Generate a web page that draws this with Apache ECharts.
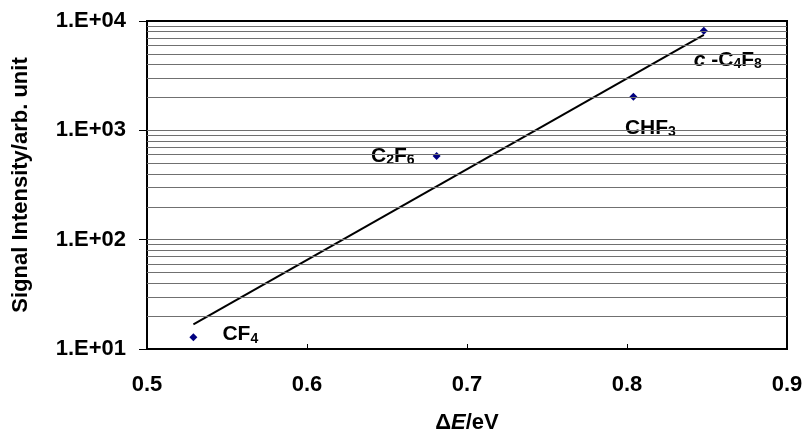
<!DOCTYPE html>
<html>
<head>
<meta charset="utf-8">
<script src="https://cdn.jsdelivr.net/npm/echarts@6/dist/echarts.min.js"></script>
<style>html,body{margin:0;padding:0;background:#fff}#c{width:804px;height:436px}</style>
</head>
<body>
<div id="c"></div>
<script>
// Data
var gases = ['CF4', 'C2F6', 'CHF3', 'c-C4F8'];
var deltaE = [0.529, 0.681, 0.804, 0.848];
var intensity = [12.8, 582, 2030, 8150];
var trendX = [0.529, 0.848];
var trendY = [16.8, 7450];
var xTicks = [0.5, 0.6, 0.7, 0.8, 0.9];
var yDecades = [10, 100, 1000, 10000];

var FF = 'Liberation Sans';
var labelRich = {
  b: {fontFamily: FF, fontWeight: 'bold', fontSize: 21, color: '#000', lineHeight: 22},
  i: {fontFamily: FF, fontWeight: 'bold', fontStyle: 'italic', fontSize: 21, color: '#000', lineHeight: 22},
  s: {fontFamily: FF, fontWeight: 'bold', fontSize: 14, color: '#000', lineHeight: 22, padding: [9, 0, 0, 0]}
};
var labelText = ['{b|CF}{s|4}', '{b|C}{s|2}{b|F}{s|6}', '{b|CHF}{s|3}', '{i|c}{b| -C}{s|4}{b|F}{s|8}'];
var labelPos = [
  {position: 'right', distance: 25, offset: [0, -3]},
  {position: 'left', distance: 18, offset: [0, 0]},
  {position: 'bottom', distance: 16, offset: [17, 0]},
  {position: 'bottom', distance: 14, offset: [24, 0]}
];

var gridValues = [];
for (var d = 0; d < yDecades.length - 1; d++) {
  for (var m = 1; m <= 9; m++) {
    var v = yDecades[d] * m;
    if (v > yDecades[0]) gridValues.push(v);
  }
}

var pts = deltaE.map(function (x, i) {
  return {
    value: [x, intensity[i]],
    label: Object.assign({show: true, color: '#000', formatter: labelText[i], rich: labelRich}, labelPos[i])
  };
});

var chart = echarts.init(document.getElementById('c'), null, {renderer: 'canvas'});
chart.setOption({
  animation: false,
  backgroundColor: '#fff',
  grid: {left: 147, right: 17, top: 21, bottom: 87, containLabel: false, outerBoundsMode: 'none',
    show: true, borderColor: '#000', borderWidth: 2, backgroundColor: 'transparent'},
  xAxis: {
    type: 'value', min: 0.5, max: 0.9, interval: 0.1,
    name: '{d|Δ}{e|E}{d|/eV}', nameLocation: 'middle', nameGap: 63,
    nameTextStyle: {rich: {
      d: {fontFamily: FF, fontWeight: 'bold', fontSize: 22, color: '#000'},
      e: {fontFamily: FF, fontWeight: 'bold', fontStyle: 'italic', fontSize: 22, color: '#000'}
    }},
    axisLine: {show: true, onZero: false, lineStyle: {color: '#000', width: 2}},
    axisTick: {show: true, inside: true, length: 5, lineStyle: {color: '#000', width: 1}},
    axisLabel: {margin: 25, fontFamily: FF, fontWeight: 'bold', fontSize: 22, color: '#000',
      formatter: function (v) { return String(Math.round(v * 10) / 10); }},
    splitLine: {show: false}
  },
  yAxis: {
    type: 'log', logBase: 10, min: yDecades[0], max: yDecades[yDecades.length - 1],
    name: 'Signal Intensity/arb. unit', nameLocation: 'middle', nameGap: 115, nameRotate: 90,
    nameTextStyle: {fontFamily: FF, fontWeight: 'bold', fontSize: 22, color: '#000'},
    axisLine: {show: true, lineStyle: {color: '#000', width: 2}},
    axisTick: {show: true, inside: false, length: 8, lineStyle: {color: '#000', width: 1}},
    axisLabel: {margin: 21, fontFamily: FF, fontWeight: 'bold', fontSize: 22, color: '#000',
      formatter: function (v) { var e = Math.round(Math.log10(v)); return '1.E+' + (e < 10 ? '0' + e : e); }},
    splitLine: {show: false}
  },
  series: [
    {
      type: 'line', data: [], z: 1, silent: true,
      markLine: {
        silent: true, symbol: ['none', 'none'], animation: false,
        label: {show: false},
        lineStyle: {color: '#707070', width: 1, type: 'solid'},
        emphasis: {disabled: true},
        data: gridValues.map(function (v) { return {yAxis: v}; })
      }
    },
    {
      type: 'line', z: 2, silent: true, symbol: 'none',
      lineStyle: {color: '#000', width: 2},
      data: trendX.map(function (x, i) { return [x, trendY[i]]; })
    },
    {
      type: 'scatter', z: 3, symbol: 'diamond', symbolSize: 8,
      itemStyle: {color: '#000080', opacity: 1},
      data: pts
    }
  ]
});
</script>
</body>
</html>
